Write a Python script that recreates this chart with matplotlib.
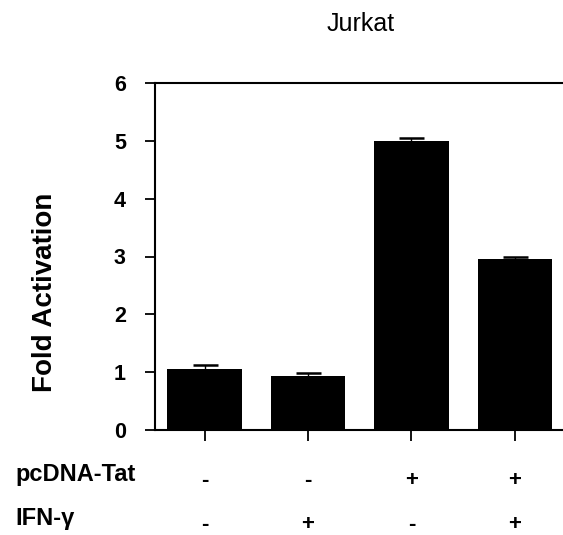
import matplotlib
matplotlib.use("Agg")
import matplotlib.pyplot as plt

# data
conditions = ["1", "2", "3", "4"]
fold_activation = [1.06, 0.93, 5.0, 2.95]
errors = [0.06, 0.05, 0.05, 0.04]
tat_row = ["-", "-", "+", "+"]
ifn_row = ["-", "+", "-", "+"]
y_ticks = [0, 1, 2, 3, 4, 5, 6]

plt.rcParams['font.family'] = ['Liberation Sans', 'DejaVu Sans']

W, H = 563, 535
fig = plt.figure(figsize=(W / 100, H / 100), dpi=100)
ax = fig.add_axes([155 / W, 1 - 430 / H, 1 - 155 / W + 0.01, (430 - 83) / H])

x = list(range(len(conditions)))
ax.bar(x, fold_activation, width=0.72, color='black',
       yerr=errors, error_kw=dict(ecolor='black', capsize=9, capthick=1.8, elinewidth=1))

ax.set_xlim(-0.48, 3.52)
ax.set_ylim(0, 6)
ax.set_yticks(y_ticks)
ax.set_yticklabels([str(t) for t in y_ticks], fontsize=15.5, fontweight='bold')
ax.set_xticks(x)
ax.set_xticklabels([])

ax.tick_params(axis='y', direction='out', length=7, width=1.3, pad=14)
ax.tick_params(axis='x', direction='out', length=8, width=1.3)
ax.spines['right'].set_visible(False)
for s in ['left', 'bottom', 'top']:
    ax.spines[s].set_linewidth(1.5)

fig.text(45 / W, 1 - 292 / H, "Fold Activation", rotation=90, ha='center', va='center',
         fontsize=20, fontweight='bold')
fig.text(361 / W, 1 - 24 / H, "Jurkat", ha='center', va='center', fontsize=18)

# condition table below the axis
fig.text(15 / W, 1 - 475 / H, "pcDNA-Tat", ha='left', va='center',
         fontsize=17, fontweight='bold')
fig.text(15 / W, 1 - 518 / H, "IFN-γ", ha='left', va='center',
         fontsize=17, fontweight='bold')
for xi, t, f in zip(x, tat_row, ifn_row):
    ax.annotate(t, (xi, 0), xycoords=('data', 'figure pixels'), xytext=(0, H - 481),
                textcoords=('offset points', 'figure pixels'),
                ha='center', va='center', fontsize=16, fontweight='bold')
    ax.annotate(f, (xi, 0), xycoords=('data', 'figure pixels'), xytext=(0, H - 524),
                textcoords=('offset points', 'figure pixels'),
                ha='center', va='center', fontsize=16, fontweight='bold')

fig.savefig("out.png", dpi=100)
